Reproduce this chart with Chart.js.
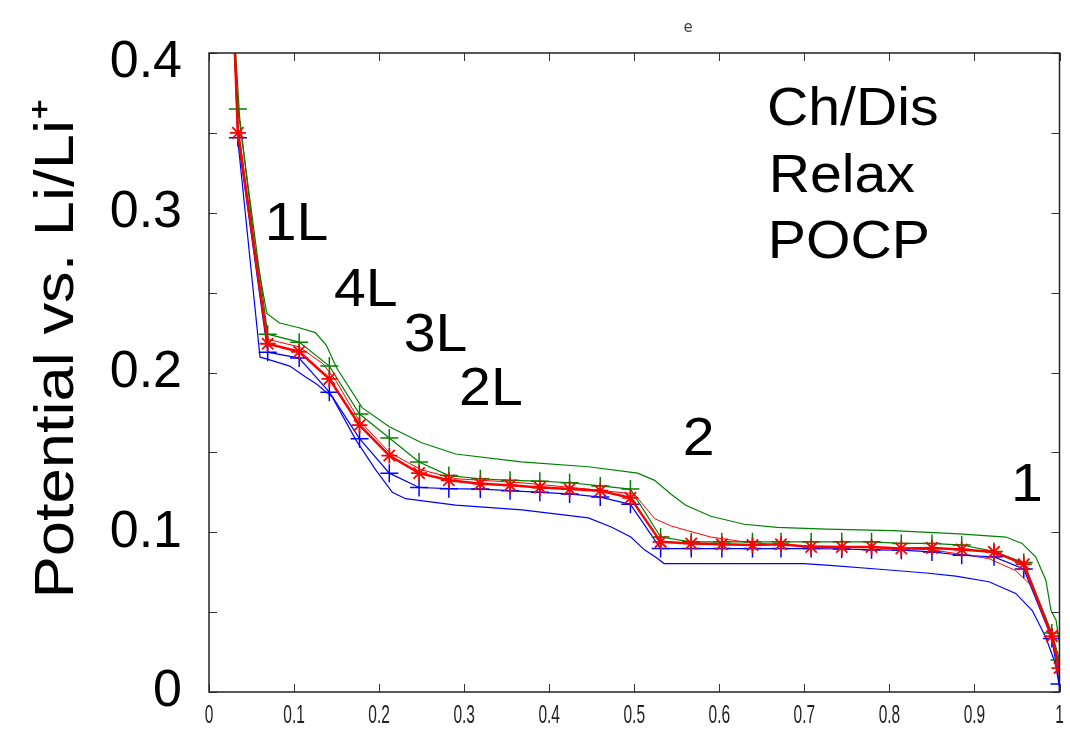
<!DOCTYPE html>
<html>
<head>
<meta charset="utf-8">
<title>Potential vs. Li/Li+</title>
<script src="https://cdn.jsdelivr.net/npm/chart.js@4.4.1/dist/chart.umd.min.js"></script>
<style>
  body { margin: 0; background: #fff; }
  #wrap { width: 1070px; height: 731px; }
</style>
</head>
<body>
<div id="wrap"><canvas id="potentialChart" width="1070" height="731"></canvas></div>
<script>
'use strict'

// x positions of the marker points (+ and *), shared by the three marker series
var markerX = [0.029, 0.034, 0.069, 0.106, 0.1415, 0.177, 0.212, 0.247, 0.282, 0.319,
    0.354, 0.389, 0.424, 0.460, 0.4955, 0.531, 0.567, 0.603, 0.639, 0.6725,
    0.708, 0.744, 0.779, 0.814, 0.850, 0.885, 0.923, 0.958, 0.991, 1.0]

var redStarY = [0.42, 0.350, 0.218, 0.213, 0.196, 0.167, 0.148, 0.137, 0.1325, 0.1304,
    0.1294, 0.128, 0.127, 0.126, 0.1215, 0.094, 0.093, 0.0925, 0.092, 0.0925,
    0.0908, 0.0908, 0.0908, 0.0898, 0.0902, 0.0892, 0.0877, 0.080, 0.035, 0.015]

var greenPlusY = [0.42, 0.365, 0.224, 0.219, 0.204, 0.174, 0.159, 0.144, 0.1355, 0.1335,
    0.1325, 0.132, 0.131, 0.129, 0.127, 0.097, 0.094, 0.094, 0.094, 0.094,
    0.094, 0.094, 0.094, 0.093, 0.093, 0.092, 0.088, 0.081, 0.037, 0.02]

var bluePlusY = [0.42, 0.347, 0.2127, 0.209, 0.1877, 0.1586, 0.137, 0.128, 0.1273, 0.127,
    0.126, 0.125, 0.124, 0.122, 0.1175, 0.0898, 0.0898, 0.0898, 0.0898, 0.0898,
    0.0898, 0.0895, 0.089, 0.0888, 0.0877, 0.0856, 0.0846, 0.077, 0.0335, 0.005]

// plain lines
var greenSolidX = [0.029, 0.036, 0.054, 0.068, 0.083, 0.106, 0.125, 0.138, 0.15, 0.18, 0.212,
    0.25, 0.29, 0.367, 0.446, 0.504, 0.524, 0.543, 0.56, 0.59, 0.629,
    0.668, 0.726, 0.804, 0.882, 0.937, 0.956, 0.972, 0.984, 0.99, 0.996, 1.0]
var greenSolidY = [0.42, 0.36, 0.278, 0.237, 0.231, 0.228, 0.225, 0.217, 0.203, 0.178, 0.166,
    0.156, 0.149, 0.144, 0.141, 0.137, 0.1325, 0.124, 0.117, 0.11, 0.105,
    0.103, 0.102, 0.101, 0.099, 0.097, 0.093, 0.0846, 0.070, 0.051, 0.045, 0.03]

var redSolidX = [0.029, 0.034, 0.0675, 0.106, 0.134, 0.149, 0.1766, 0.212, 0.25, 0.29,
    0.367, 0.446, 0.5, 0.524, 0.543, 0.5626, 0.59, 0.629, 0.668, 0.75,
    0.85, 0.878, 0.917, 0.9485, 0.968, 0.9836, 0.995, 1.0]
var redSolidY = [0.42, 0.355, 0.221, 0.216, 0.2055, 0.195, 0.170, 0.150, 0.139, 0.1335,
    0.131, 0.127, 0.124, 0.1085, 0.104, 0.101, 0.097, 0.094, 0.092, 0.091,
    0.089, 0.0867, 0.0835, 0.076, 0.066, 0.047, 0.024, 0.01]

var blueSolidX = [0.029, 0.034, 0.06, 0.0675, 0.095, 0.114, 0.126, 0.145, 0.173, 0.196,
    0.2156, 0.231, 0.29, 0.368, 0.446, 0.473, 0.496, 0.512, 0.5275, 0.535,
    0.668, 0.699, 0.726, 0.785, 0.843, 0.878, 0.917, 0.9485, 0.968, 0.9836,
    0.995, 1.0]
var blueSolidY = [0.42, 0.345, 0.2096, 0.2085, 0.204, 0.197, 0.193, 0.1846, 0.1575, 0.139,
    0.125, 0.121, 0.117, 0.114, 0.109, 0.1033, 0.097, 0.089, 0.0836, 0.0804,
    0.0804, 0.0804, 0.0794, 0.077, 0.0745, 0.0725, 0.069, 0.0617, 0.051, 0.0346,
    0.018, 0.003]

var xTicks = [0, 0.1, 0.2, 0.3, 0.4, 0.5, 0.6, 0.7, 0.8, 0.9, 1]
var yTicks = [0, 0.1, 0.2, 0.3, 0.4]
var yTickLabels = ['0', '0.1', '0.2', '0.3', '0.4']
var yTitle = 'Potential vs. Li/Li\u207A'

// text written inside the plot, placed in data units
var notes = [
    { text: '1L', x: 0.0655, y: 0.292 },
    { text: '4L', x: 0.147, y: 0.251 },
    { text: '3L', x: 0.229, y: 0.223 },
    { text: '2L', x: 0.294, y: 0.189 },
    { text: '2', x: 0.557, y: 0.1575 },
    { text: '1', x: 0.943, y: 0.129 },
    { text: 'Ch/Dis', x: 0.656, y: 0.364 },
    { text: 'Relax', x: 0.658, y: 0.322 },
    { text: 'POCP', x: 0.657, y: 0.281 }
]

function toPoints(xs, ys) {
    return xs.map(function (x, i) { return { x: x, y: ys[i] } })
}

var GREEN = '#008000'
var RED = '#ff0000'
var BLUE = '#0000ff'
var BIG_FONT = '"Liberation Sans", Arial, sans-serif'

// keep the plot box exactly where the scales put it (no label overhang padding)
function noPad(scale) {
    scale.paddingTop = 0
    scale.paddingBottom = 0
    scale.paddingLeft = 0
    scale.paddingRight = 0
}

//-------------
//- box + inward ticks + text
//-------------
var boxPlugin = {
    id: 'box',
    afterDraw: function (chart) {
        var ctx = chart.ctx
        var a = chart.chartArea
        var xs = chart.scales.x
        var ys = chart.scales.y
        var tl = 8

        ctx.save()
        ctx.strokeStyle = '#333'
        ctx.lineWidth = 1
        ctx.beginPath()
        xs.ticks.forEach(function (t) {
            var px = Math.round(xs.getPixelForValue(t.value)) + 0.5
            ctx.moveTo(px, a.bottom); ctx.lineTo(px, a.bottom - tl)
            ctx.moveTo(px, a.top); ctx.lineTo(px, a.top + tl)
        })
        ys.ticks.forEach(function (t) {
            var py = Math.round(ys.getPixelForValue(t.value)) + 0.5
            ctx.moveTo(a.left, py); ctx.lineTo(a.left + tl, py)
            ctx.moveTo(a.right, py); ctx.lineTo(a.right - tl, py)
        })
        ctx.stroke()

        ctx.lineWidth = 1.5
        ctx.strokeStyle = '#222'
        ctx.strokeRect(a.left, a.top, a.right - a.left, a.bottom - a.top)

        // x tick labels: tall narrow glyphs
        ctx.fillStyle = '#222'
        ctx.font = '25px ' + BIG_FONT
        ctx.textAlign = 'center'
        ctx.textBaseline = 'middle'
        xTicks.forEach(function (v) {
            ctx.save()
            ctx.translate(xs.getPixelForValue(v), a.bottom + 24)
            ctx.scale(0.62, 1)
            ctx.fillText(String(v), 0, 0)
            ctx.restore()
        })

        // y tick labels (top one kept inside the figure like the original)
        ctx.fillStyle = '#000'
        ctx.font = '52px ' + BIG_FONT
        ctx.textAlign = 'right'
        yTicks.forEach(function (v, i) {
            var py = ys.getPixelForValue(v)
            py = Math.max(py, a.top + 10)
            py = Math.min(py, a.bottom + 4)
            ctx.fillText(yTickLabels[i], 182, py)
        })

        // y axis title
        ctx.save()
        ctx.font = '56px ' + BIG_FONT
        ctx.translate(58, (a.top + a.bottom) / 2 - 24)
        ctx.rotate(-Math.PI / 2)
        ctx.scale(1.13, 1)
        ctx.textAlign = 'center'
        ctx.fillText(yTitle, 0, 0)
        ctx.restore()

        ctx.font = '54px ' + BIG_FONT
        ctx.textAlign = 'left'
        notes.forEach(function (n) {
            ctx.save()
            ctx.translate(xs.getPixelForValue(n.x), ys.getPixelForValue(n.y))
            ctx.scale(1.06, 1)
            ctx.fillText(n.text, 0, 0)
            ctx.restore()
        })

        ctx.fillStyle = '#444'
        ctx.font = '15px "DejaVu Sans", sans-serif'
        ctx.textAlign = 'center'
        ctx.fillText('e', 688, 28)
        ctx.restore()
    }
}

var ctx = document.getElementById('potentialChart').getContext('2d')

new Chart(ctx, {
    type: 'scatter',
    data: {
        datasets: [{
            label: 'POCP',
            data: toPoints(markerX, redStarY),
            showLine: true,
            borderColor: RED,
            borderWidth: 2.5,
            pointStyle: 'star',
            pointRadius: 8,
            pointBorderWidth: 1.8,
            pointBorderColor: RED,
            pointBackgroundColor: RED
        }, {
            label: 'Relax charge',
            data: toPoints(markerX, greenPlusY),
            showLine: true,
            borderColor: GREEN,
            borderWidth: 1.2,
            pointStyle: 'cross',
            pointRadius: 9,
            pointBorderWidth: 1.5,
            pointBorderColor: GREEN
        }, {
            label: 'Relax discharge',
            data: toPoints(markerX, bluePlusY),
            showLine: true,
            borderColor: BLUE,
            borderWidth: 1.2,
            pointStyle: 'cross',
            pointRadius: 9,
            pointBorderWidth: 1.5,
            pointBorderColor: BLUE
        }, {
            label: 'red',
            data: toPoints(redSolidX, redSolidY),
            showLine: true,
            borderColor: RED,
            borderWidth: 1,
            pointRadius: 0
        }, {
            label: 'Charge',
            data: toPoints(greenSolidX, greenSolidY),
            showLine: true,
            borderColor: GREEN,
            borderWidth: 1.2,
            pointRadius: 0
        }, {
            label: 'Discharge',
            data: toPoints(blueSolidX, blueSolidY),
            showLine: true,
            borderColor: BLUE,
            borderWidth: 1.2,
            pointRadius: 0
        }]
    },
    options: {
        responsive: false,
        animation: false,
        layout: {
            padding: { top: 53, right: 4, left: 0, bottom: 0 }
        },
        plugins: {
            legend: { display: false },
            tooltip: { enabled: false }
        },
        scales: {
            x: {
                type: 'linear',
                min: 0,
                max: 1,
                afterBuildTicks: function (scale) {
                    scale.ticks = xTicks.map(function (v) { return { value: v } })
                },
                afterFit: function (scale) { scale.height = 39; noPad(scale) },
                grid: { display: false, drawTicks: false },
                border: { display: false },
                ticks: { display: false }
            },
            y: {
                type: 'linear',
                min: 0,
                max: 0.4,
                afterBuildTicks: function (scale) {
                    var t = []
                    for (var i = 0; i <= 8; i++) t.push({ value: i * 0.05 })
                    scale.ticks = t
                },
                afterFit: function (scale) { scale.width = 209; noPad(scale) },
                grid: { display: false, drawTicks: false },
                border: { display: false },
                ticks: { display: false }
            }
        }
    },
    plugins: [boxPlugin]
})
</script>
</body>
</html>
